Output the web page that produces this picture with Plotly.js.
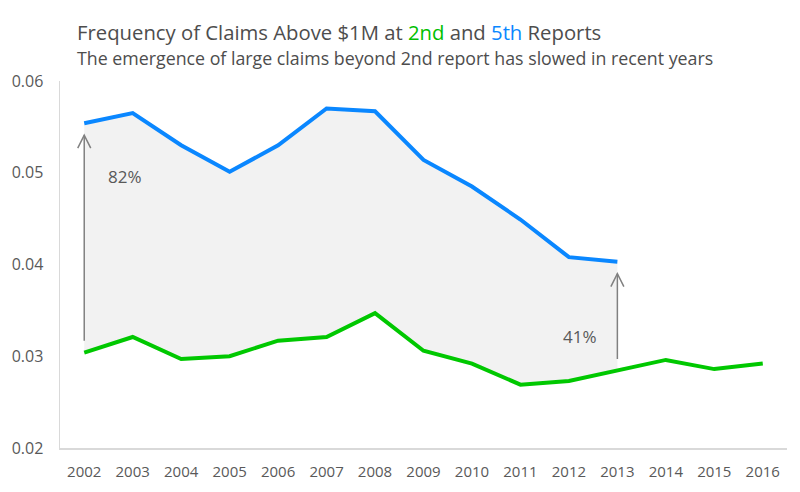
<!DOCTYPE html>
<html>
<head>
<meta charset="utf-8">
<script src="https://cdn.plot.ly/plotly-3.0.1.min.js"></script>
<style>html,body{margin:0;padding:0;background:#fff}#chart{width:800px;height:492px}</style>
</head>
<body>
<div id="chart"></div>
<script>
var years = ['2002','2003','2004','2005','2006','2007','2008','2009','2010','2011','2012','2013','2014','2015','2016'];
var report2nd = [0.0304,0.0321,0.0297,0.0300,0.0317,0.0321,0.0347,0.0306,0.0292,0.0269,0.0273,0.0284,0.0296,0.0286,0.0292];
var report5thYears = ['2002','2003','2004','2005','2006','2007','2008','2009','2010','2011','2012','2013'];
var report5th = [0.0554,0.0565,0.0530,0.0501,0.0530,0.0570,0.0567,0.0514,0.0485,0.0449,0.0408,0.0403];
var arrowYears = ['2002','2013'];
var arrowLabels = ['82%','41%'];

var FONT = 'Open Sans, "Noto Sans", sans-serif';
var GREEN = '#00c800';
var BLUE = '#0a87ff';
var GREY = '#808080';

var n5 = report5thYears.length;
var traces = [
  {x: report5thYears, y: report2nd.slice(0, n5), type:'scatter', mode:'lines',
   line:{width:0, color:'rgba(0,0,0,0)'}, hoverinfo:'skip', showlegend:false},
  {x: report5thYears, y: report5th, type:'scatter', mode:'lines', fill:'tonexty',
   fillcolor:'#f2f2f2', line:{color:BLUE, width:4}, name:'5th Report', showlegend:false},
  {x: years, y: report2nd, type:'scatter', mode:'lines',
   line:{color:GREEN, width:4}, name:'2nd Report', showlegend:false}
];

var gap = 0.0013;
var shapes = [];
var annotations = [];
arrowYears.forEach(function(yr, k){
  var i = years.indexOf(yr);
  var lo = report2nd[i] + gap;
  var hi = report5th[report5thYears.indexOf(yr)] - gap;
  shapes.push({type:'line', xref:'x', yref:'y', x0:i, x1:i, y0:lo, y1:hi,
    line:{color:GREY, width:1.5}});
  shapes.push({type:'path', xref:'x', yref:'y', xsizemode:'pixel', ysizemode:'pixel',
    xanchor:i, yanchor:hi, path:'M -6.5,-13 L 0,0 L 6.5,-13',
    line:{color:GREY, width:1.5}});
});
annotations.push({xref:'x', yref:'y', x:0.85, y:0.0496, text:arrowLabels[0], showarrow:false,
  font:{family:FONT, size:17, color:'#595959'}});
annotations.push({xref:'x', yref:'y', x:10.23, y:0.0322, text:arrowLabels[1], showarrow:false,
  font:{family:FONT, size:17, color:'#595959'}});
annotations.push({xref:'paper', yref:'paper', x:0.0206, y:1.1335, xanchor:'left', yanchor:'middle',
  text:'Frequency of Claims Above $1M at <span style="color:#00c000">2nd</span> and <span style="color:#0a87ff">5th</span> Reports',
  showarrow:false, font:{family:FONT, size:20.3, color:'#4d4d4d'}});
annotations.push({xref:'paper', yref:'paper', x:0.0206, y:1.0627, xanchor:'left', yanchor:'middle',
  text:'The emergence of large claims beyond 2nd report has slowed in recent years',
  showarrow:false, font:{family:FONT, size:17.8, color:'#4d4d4d'}});

var layout = {
  width:800, height:492,
  margin:{l:60, r:13, t:81, b:44},
  paper_bgcolor:'#fff', plot_bgcolor:'#fff',
  showlegend:false,
  font:{family:FONT, color:'#595959', size:15},
  xaxis:{type:'category', categoryorder:'array', categoryarray:years, range:[-0.5,14.5],
    showgrid:false, zeroline:false, showline:true, linecolor:'#d9d9d9', linewidth:1.5,
    ticks:'', ticklabelstandoff:9, tickfont:{family:FONT, size:15, color:'#595959'}},
  yaxis:{range:[0.02,0.06], dtick:0.01, tickformat:'.2f', showgrid:false, zeroline:false,
    showline:true, linecolor:'#d9d9d9', linewidth:1.5, ticks:'', ticklabelstandoff:12,
    tickfont:{family:FONT, size:16, color:'#595959'}},
  shapes:shapes,
  annotations:annotations
};
Plotly.newPlot('chart', traces, layout, {staticPlot:true, displayModeBar:false});
</script>
</body>
</html>
